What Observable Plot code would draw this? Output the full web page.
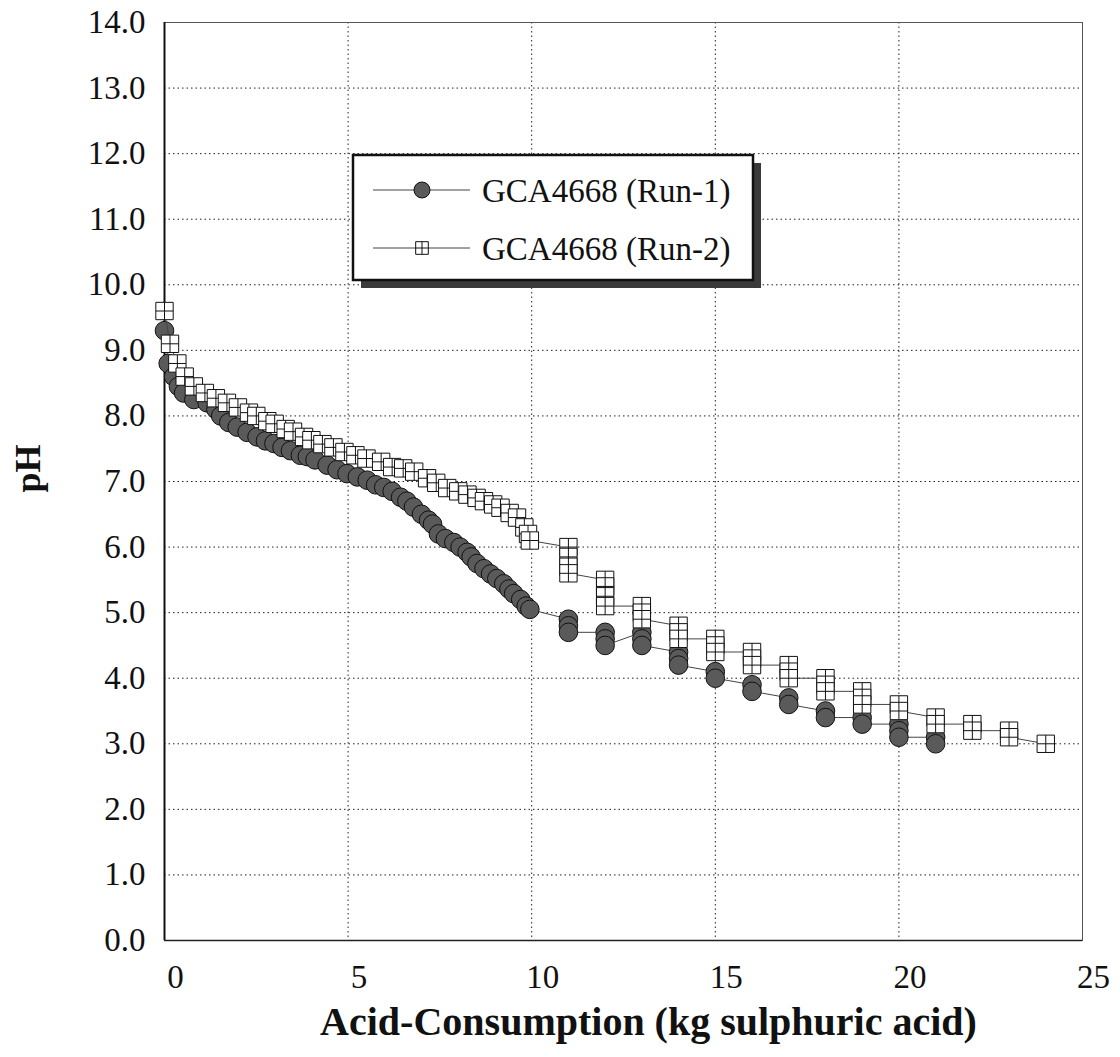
<!DOCTYPE html>
<html>
<head>
<meta charset="utf-8">
<script src="https://cdn.jsdelivr.net/npm/d3@7"></script>
<script src="https://cdn.jsdelivr.net/npm/@observablehq/plot@0.6"></script>
<style>
  html, body { margin: 0; padding: 0; background: #fff; }
  #chart { width: 1120px; height: 1057px; }
  svg text { font-family: "Liberation Serif", "Times New Roman", serif; }
</style>
</head>
<body>
<div id="chart"></div>
<script>
// ---- Data ----
const xTicks = [0, 5, 10, 15, 20, 25];
const yTicks = [0, 1, 2, 3, 4, 5, 6, 7, 8, 9, 10, 11, 12, 13, 14];

const seriesNames = ["GCA4668 (Run-1)", "GCA4668 (Run-2)"];
const xTitle = "Acid-Consumption (kg sulphuric acid)";
const yTitle = "pH";

// Run-1 (filled circles)
const run1Acid = [0, 0.1, 0.25, 0.38, 0.52, 0.8, 1.16, 1.4, 1.53, 1.75,
  1.98, 2.25, 2.52, 2.75, 2.98, 3.2, 3.43, 3.7, 3.89, 4.1,
  4.43, 4.7, 4.97, 5.25, 5.52, 5.75, 5.97, 6.2, 6.43, 6.6,
  6.78, 7.0, 7.19, 7.3, 7.46, 7.65, 7.88, 8.05, 8.24, 8.35,
  8.51, 8.7, 8.88, 9.05, 9.24, 9.38, 9.51, 9.7, 9.85, 9.95,
  11, 11, 11, 12, 12, 12, 13, 13, 13, 14, 14, 14, 15, 15, 16, 16,
  17, 17, 18, 18, 19, 19, 20, 20, 20, 21, 21];
const run1PH = [9.3, 8.8, 8.6, 8.45, 8.35, 8.25, 8.2, 8.1, 8.0, 7.9,
  7.83, 7.75, 7.68, 7.62, 7.58, 7.52, 7.47, 7.4, 7.38, 7.33,
  7.25, 7.18, 7.12, 7.07, 7.02, 6.95, 6.91, 6.85, 6.76, 6.7,
  6.61, 6.5, 6.41, 6.35, 6.2, 6.13, 6.07, 6.0, 5.92, 5.85,
  5.75, 5.67, 5.59, 5.52, 5.44, 5.36, 5.29, 5.2, 5.1, 5.05,
  4.9, 4.8, 4.7, 4.7, 4.6, 4.5, 4.7, 4.6, 4.5, 4.4, 4.3, 4.2, 4.1, 4.0, 3.9, 3.8,
  3.7, 3.6, 3.5, 3.4, 3.4, 3.3, 3.3, 3.2, 3.1, 3.1, 3.0];

// Run-2 (open squares with cross)
const run2Acid = [0, 0.15, 0.35, 0.55, 0.8, 1.1, 1.4, 1.7, 2.0, 2.3,
  2.5, 2.8, 3.0, 3.3, 3.5, 3.8, 4.0, 4.3, 4.6, 4.9,
  5.2, 5.5, 5.9, 6.2, 6.5, 6.8, 7.15, 7.4, 7.7, 8.0,
  8.25, 8.5, 8.7, 8.95, 9.15, 9.4, 9.6, 9.8, 9.9, 9.95,
  11, 11, 11, 11, 12, 12, 12, 12, 13, 13, 13, 14, 14, 14, 15, 15, 15,
  16, 16, 16, 17, 17, 17, 18, 18, 18, 19, 19, 19, 20, 20, 21, 21,
  22, 22, 23, 23, 24];
const run2PH = [9.6, 9.1, 8.8, 8.6, 8.45, 8.35, 8.27, 8.2, 8.13, 8.05,
  8.0, 7.92, 7.88, 7.8, 7.76, 7.68, 7.63, 7.57, 7.52, 7.45,
  7.4, 7.35, 7.3, 7.22, 7.2, 7.15, 7.05, 6.98, 6.9, 6.85,
  6.8, 6.75, 6.7, 6.65, 6.6, 6.52, 6.45, 6.3, 6.2, 6.1,
  6.0, 5.85, 5.7, 5.6, 5.5, 5.4, 5.25, 5.1, 5.1, 5.0, 4.9, 4.8, 4.7, 4.6, 4.6, 4.5, 4.4,
  4.4, 4.3, 4.2, 4.2, 4.1, 4.0, 4.0, 3.9, 3.8, 3.8, 3.7, 3.6, 3.6, 3.5, 3.4, 3.3,
  3.3, 3.2, 3.2, 3.1, 3.0];

// ---- Tables built from the arrays ----
const run1 = run1Acid.map((a, i) => ({acid: a, pH: run1PH[i]}));
const run2 = run2Acid.map((a, i) => ({acid: a, pH: run2PH[i]}));

// square with an inner cross (⊞)
const squarePlus = {
  draw(ctx, size) {
    const w = Math.sqrt(size) / 2;
    ctx.moveTo(-w, -w); ctx.lineTo(w, -w); ctx.lineTo(w, w); ctx.lineTo(-w, w); ctx.closePath();
    ctx.moveTo(-w, 0); ctx.lineTo(w, 0);
    ctx.moveTo(0, -w); ctx.lineTo(0, w);
  }
};

const circleFill = "#5a5a5a";
const ink = "#111";

const chart = Plot.plot({
  width: 1120,
  height: 1057,
  marginLeft: 164,
  marginRight: 38,
  marginTop: 22,
  marginBottom: 117,
  x: {domain: [0, 25], label: null},
  y: {domain: [0, 14], label: null},
  style: {fontFamily: "'Liberation Serif', 'Times New Roman', serif", fontSize: "33px", background: "white", color: ink},
  marks: [
    Plot.gridX(xTicks, {stroke: "#222", strokeOpacity: 1, strokeWidth: 1, strokeDasharray: "1.5,3"}),
    Plot.gridY(yTicks, {stroke: "#222", strokeOpacity: 1, strokeWidth: 1, strokeDasharray: "1.5,3"}),
    Plot.frame({stroke: "#555", strokeWidth: 1}),
    Plot.ruleX([0], {stroke: ink, strokeWidth: 2}),
    Plot.ruleY([0], {stroke: "#222", strokeWidth: 1.5}),
    Plot.axisX(xTicks, {tickSize: 0, tickPadding: 24, dx: 11, fontSize: 33, label: null}),
    Plot.axisY(yTicks, {tickSize: 0, tickPadding: 19, fontSize: 33, tickFormat: d => d.toFixed(1), label: null}),
    Plot.line(run1, {x: "acid", y: "pH", stroke: "#444", strokeWidth: 1}),
    Plot.dot(run1, {x: "acid", y: "pH", r: 9.3, fill: circleFill, stroke: ink, strokeWidth: 1}),
    Plot.line(run2, {x: "acid", y: "pH", stroke: "#444", strokeWidth: 1}),
    Plot.dot(run2, {x: "acid", y: "pH", r: 9.8, symbol: squarePlus, fill: "white", stroke: ink, strokeWidth: 1}),
    Plot.text([xTitle], {frameAnchor: "bottom", dx: 25, dy: 94, fontWeight: "bold", fontSize: 40, fill: ink}),
    Plot.text([yTitle], {frameAnchor: "left", dx: -136, dy: 11, rotate: -90, fontWeight: "bold", fontSize: 36, fill: ink})
  ]
});

document.getElementById("chart").appendChild(chart);

// ---- Legend (boxed, with shadow) ----
const svg = d3.select(chart);
const lg = svg.append("g").attr("class", "legend");
const box = {x: 353, y: 155, w: 400, h: 125};
lg.append("rect").attr("x", box.x + 8).attr("y", box.y + 8).attr("width", box.w).attr("height", box.h).attr("fill", "#3a3a3a");
lg.append("rect").attr("x", box.x).attr("y", box.y).attr("width", box.w).attr("height", box.h)
  .attr("fill", "white").attr("stroke", ink).attr("stroke-width", 2.5);
const rows = [box.y + 35, box.y + 93];
rows.forEach((yy, i) => {
  lg.append("line").attr("x1", box.x + 20).attr("x2", box.x + 117).attr("y1", yy).attr("y2", yy)
    .attr("stroke", "#444").attr("stroke-width", 1);
  if (i === 0) {
    lg.append("circle").attr("cx", box.x + 69).attr("cy", yy).attr("r", 8)
      .attr("fill", circleFill).attr("stroke", ink).attr("stroke-width", 1);
  } else {
    lg.append("path").attr("transform", `translate(${box.x + 69},${yy})`)
      .attr("d", d3.symbol(squarePlus, 160)())
      .attr("fill", "white").attr("stroke", ink).attr("stroke-width", 1);
  }
  lg.append("text").attr("x", box.x + 129).attr("y", yy).attr("dy", "0.35em")
    .attr("text-anchor", "start")
    .attr("font-size", 33).attr("fill", ink).text(seriesNames[i]);
});
</script>
</body>
</html>
